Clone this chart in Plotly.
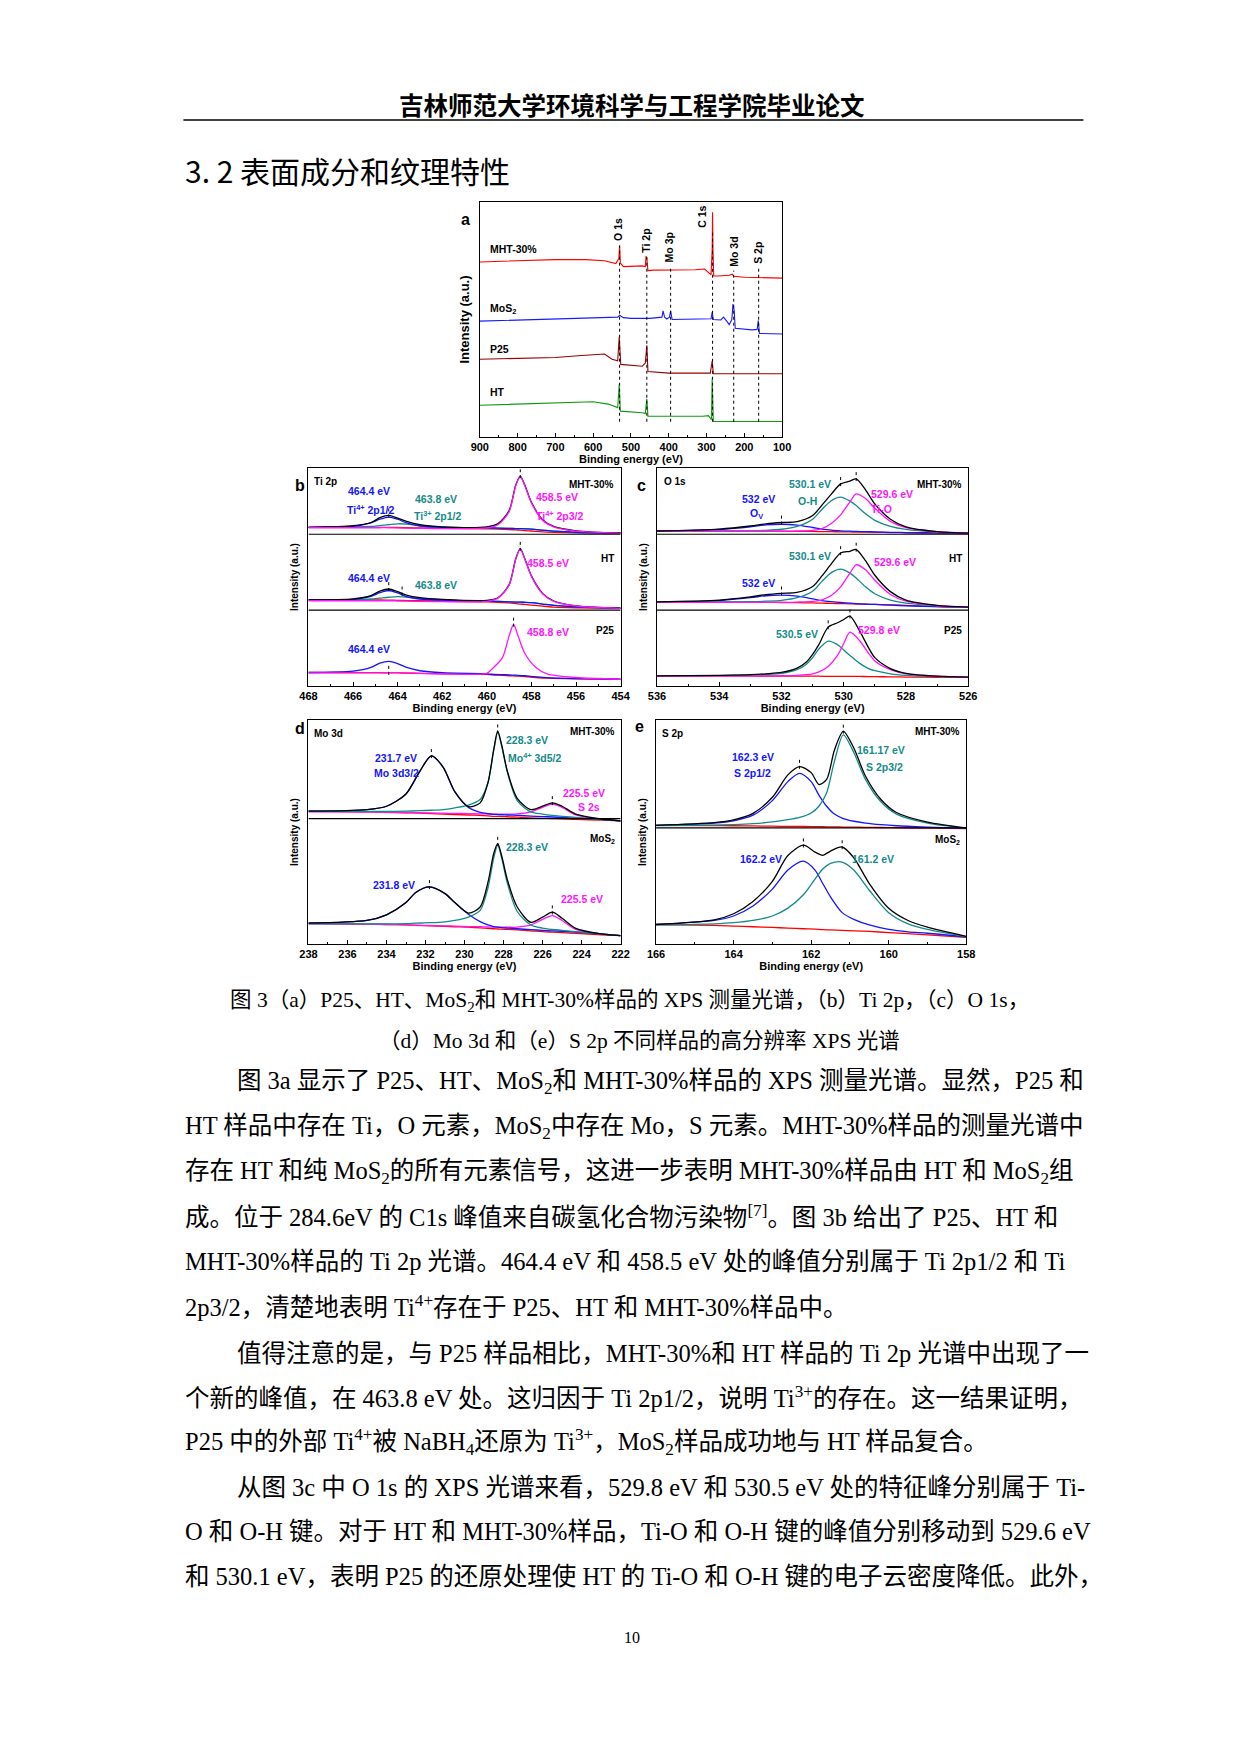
import numpy as np
import plotly.graph_objects as go

W, H = 1240, 1754
RED, BLUE, TEAL, MAG, BLK = "#ff0000", "#1414ff", "#138a8a", "#ff14ff", "#000000"

# ---------------- panel a: survey spectra ----------------
survey_mht_x = [900, 800, 700, 620, 570, 540, 532, 530, 528, 520, 470, 462, 460, 458, 455, 440, 400, 330, 305, 295, 288, 285, 284, 283, 281, 270, 240, 232, 228, 200, 160, 100]
survey_mht_y = [74.5, 75, 75.5, 75.5, 75, 73.8, 76, 81.6, 74, 72.5, 72.8, 72.5, 77, 76, 70.8, 71, 71, 71.2, 71.5, 70, 69, 80, 95.6, 80, 68.5, 68.5, 68.8, 69.3, 68.4, 68, 67.8, 67.6]
survey_mos2_x = [900, 700, 600, 535, 530, 520, 500, 450, 418, 415, 411, 405, 398, 395, 391, 300, 288, 285, 282, 262, 255, 245, 240, 233, 230, 227, 224, 180, 166, 163, 160, 100]
survey_mos2_y = [49.3, 50.3, 50.7, 51, 51.8, 50.8, 50.5, 50.5, 51, 53.7, 51, 50.2, 51, 53.7, 50, 50, 50.3, 53.2, 50, 49.8, 51, 49, 47.8, 50, 56.6, 54, 46.3, 45.6, 45.8, 49.6, 44.1, 43.8]
survey_p25_x = [900, 800, 700, 640, 570, 550, 535, 531, 529, 527, 470, 462, 458, 455, 400, 290, 285, 282, 100]
survey_p25_y = [33.1, 33.4, 33.8, 34.6, 35.3, 33.1, 32.4, 42.6, 36, 30.9, 30.1, 31.5, 39, 27.9, 27.2, 27.2, 32.4, 26.9, 26.9]
survey_ht_x = [900, 800, 700, 600, 560, 535, 531, 529, 528, 470, 462, 458, 455, 310, 295, 287, 285, 282, 100]
survey_ht_y = [13.5, 14, 14.7, 15, 14, 12.5, 22.4, 14, 11, 10.3, 10, 16.2, 8.8, 8.8, 9.1, 7.4, 25, 6.6, 6.6]
survey_names = ["MHT-30%", "MoS<sub>2</sub>", "P25", "HT"]
survey_label_y = [80, 54.4, 37.5, 19]
survey_lines = ["O 1s", "Ti 2p", "Mo 3p", "C 1s", "Mo 3d", "S 2p"]
survey_line_x = [530, 458, 395, 284, 228, 162]
survey_label_x = [534, 460, 399, 312, 226, 164]
survey_label_y0 = [82.4, 77.6, 73.5, 88.2, 71.8, 72.8]

# ---------------- panel b: Ti 2p ----------------
ti_x = [468, 466, 465.2, 464.8, 464.4, 464, 463.6, 463, 462, 460, 459.5, 459, 458.7, 458.5, 458.3, 458, 457.5, 457, 456, 454]
ti_mht_total = [2.8, 3.5, 5, 7.2, 8.3, 7, 5.5, 4, 3, 3, 4.5, 10.5, 22.3, 26.3, 22.3, 14.3, 6.3, 3.2, 1.2, 0.2]
ti_mht_blue = [2.8, 3.2, 4.8, 6.5, 7.5, 6.5, 4.8, 3.4, 2.8, 2.6, 2.4, 2.3, 2.2, 2.2, 2.1, 2, 1.5, 1, 0.5, 0.2]
ti_mht_teal = [2.8, 3, 3.2, 3.6, 4, 4.4, 4.3, 3.6, 2.9, 2.5, 2.4, 2.3, 2.2, 2.2, 2.1, 2, 1.5, 1, 0.5, 0.2]
ti_mht_mag = [2.6, 2.6, 2.6, 2.6, 2.6, 2.5, 2.4, 2.3, 2.2, 2.5, 4, 10, 22, 26, 22, 14, 6, 3, 1, 0.1]
ti_mht_red = [2.8, 2.8, 2.8, 2.8, 2.8, 2.7, 2.6, 2.5, 2.3, 2.1, 2, 1.8, 1.6, 1.5, 1.3, 1.1, 0.7, 0.5, 0.3, 0.1]
ti_ht_total = [4, 4.5, 6, 8, 9, 7.8, 6.2, 5, 4.2, 3.8, 5, 11, 23, 27.5, 23, 15, 7, 3.5, 1.3, 0.2]
ti_ht_blue = [4, 4.2, 5.6, 7.3, 8.3, 7.2, 5.5, 4.4, 3.9, 3.5, 3.3, 3.1, 3, 3, 2.9, 2.7, 2.1, 1.5, 0.8, 0.2]
ti_ht_teal = [4, 4.1, 4.4, 4.8, 5.2, 5.5, 5.3, 4.6, 3.9, 3.5, 3.3, 3.1, 3, 3, 2.9, 2.7, 2.1, 1.5, 0.8, 0.2]
ti_ht_mag = [3.6, 3.6, 3.6, 3.6, 3.6, 3.5, 3.4, 3.3, 3.2, 3.3, 4.8, 10.8, 22.8, 27.3, 22.8, 14.8, 6.8, 3.3, 1.2, 0.1]
ti_ht_red = [4, 4, 4, 4, 3.9, 3.8, 3.7, 3.6, 3.4, 3.1, 2.9, 2.6, 2.3, 2.1, 1.9, 1.6, 1.1, 0.7, 0.4, 0.1]
ti_p25_x = [468, 466, 465.2, 464.8, 464.4, 464, 463.6, 463, 462, 460, 459.8, 459.3, 459, 458.8, 458.6, 458.3, 457.8, 457.3, 456, 454]
ti_p25_blue = [3.2, 3.8, 5.5, 7.5, 8.3, 7.3, 5.5, 4, 3.1, 2.6, 2.4, 2.2, 2.1, 2, 1.9, 1.7, 1.2, 0.8, 0.4, 0.1]
ti_p25_mag = [3, 3, 3, 3, 3.1, 3.1, 3, 2.8, 2.6, 2.8, 4.5, 10, 20, 25.2, 20, 12, 5.5, 2.6, 0.9, 0.1]
ti_p25_red = [3.2, 3.2, 3.1, 3.1, 3, 3, 2.9, 2.8, 2.6, 2.3, 2.1, 1.9, 1.7, 1.6, 1.5, 1.3, 0.9, 0.6, 0.3, 0.1]

# ---------------- panel c: O 1s ----------------
o_x = [536, 534, 533, 532.5, 532, 531.5, 531, 530.7, 530.4, 530.1, 529.8, 529.6, 529.3, 529, 528.5, 528, 527, 526]
o_mht_total = [1.1, 2, 3.4, 4.4, 5, 5.4, 8.2, 13, 18, 22.7, 24, 25, 20, 13.5, 6.5, 3, 0.8, 0.1]
o_mht_teal = [1.1, 1.1, 1.2, 1.4, 1.9, 3.2, 6.5, 11, 15, 16.6, 14.8, 12.8, 9, 6, 3.2, 1.8, 0.6, 0.1]
o_mht_mag = [1, 1, 1, 1, 1, 1.1, 1.4, 2.2, 4.5, 8.5, 14.5, 18.1, 16, 11.5, 5.5, 2.6, 0.8, 0.1]
o_mht_blue = [1.1, 1.8, 3, 3.9, 4.2, 3.8, 2.7, 2, 1.5, 1.2, 1, 0.9, 0.8, 0.7, 0.5, 0.4, 0.2, 0]
o_mht_red = [1.1, 1, 1, 1, 1, 0.9, 0.9, 0.8, 0.8, 0.7, 0.7, 0.6, 0.6, 0.5, 0.4, 0.3, 0.1, 0]
o_ht_total = [2.6, 3.4, 4.9, 5.9, 6.5, 6.9, 9.6, 14.5, 20, 25, 25.8, 26.6, 21.5, 14.8, 7.3, 3.4, 1, 0.2]
o_ht_teal = [2.6, 2.6, 2.7, 2.9, 3.3, 4.5, 7.5, 12, 16, 17.6, 15.8, 13.5, 9.5, 6.3, 3.4, 2, 0.8, 0.2]
o_ht_mag = [2.4, 2.4, 2.4, 2.4, 2.4, 2.5, 2.8, 3.5, 5.5, 9.5, 15.8, 19.6, 17.3, 12.5, 6, 2.9, 0.9, 0.2]
o_ht_blue = [2.6, 3.2, 4.5, 5.4, 5.7, 5.2, 4, 3.2, 2.7, 2.3, 2, 1.8, 1.6, 1.4, 1.1, 0.8, 0.4, 0.1]
o_ht_red = [2.6, 2.5, 2.4, 2.4, 2.3, 2.2, 2.1, 2, 1.9, 1.8, 1.7, 1.6, 1.5, 1.4, 1.2, 1, 0.4, 0.1]
o_p25_x = [536, 534, 533, 532.5, 532, 531.5, 531.2, 531, 530.8, 530.5, 530.2, 530, 529.8, 529.5, 529.2, 529, 528.5, 528, 527, 526]
o_p25_total = [0.6, 0.9, 1.2, 1.6, 2.2, 4.2, 7, 10.5, 15, 23, 25, 26.5, 28, 21.5, 13.5, 9, 4, 1.8, 0.5, 0.1]
o_p25_teal = [0.6, 0.8, 1, 1.3, 1.8, 3.5, 6, 9, 13, 16.6, 15, 12.5, 10, 6.5, 4, 3, 1.6, 0.9, 0.3, 0.1]
o_p25_mag = [0.5, 0.5, 0.5, 0.6, 0.7, 0.9, 1.2, 1.6, 2.5, 5, 10, 15.5, 20.7, 17, 11, 7.5, 3.5, 1.6, 0.5, 0.1]
o_p25_red = [0.6, 0.6, 0.6, 0.5, 0.5, 0.5, 0.5, 0.5, 0.5, 0.4, 0.4, 0.4, 0.4, 0.4, 0.3, 0.3, 0.2, 0.1, 0, 0]

# ---------------- panel d: Mo 3d ----------------
mo_x = [238, 235, 234, 233, 232.3, 231.7, 231.1, 230.5, 229.8, 229.2, 228.8, 228.5, 228.3, 228.1, 227.8, 227.3, 226.6, 226, 225.5, 225, 224.3, 223, 222]
mo_mht_total = [4.3, 5, 6.5, 12, 22, 29, 24, 13, 6.3, 8, 17, 32, 40, 34, 22, 10, 5, 6.5, 8, 6.5, 3, 0.8, 0]
mo_mht_blue = [4.3, 5, 6.5, 12, 22, 29, 24, 13, 6, 3.8, 3.2, 2.9, 2.8, 2.7, 2.6, 2.4, 2.1, 1.9, 1.7, 1.5, 1.2, 0.6, 0]
mo_mht_teal = [4.2, 4.2, 4.2, 4.3, 4.5, 4.7, 5, 5.8, 7, 9.5, 17, 31.5, 39.5, 33.5, 21.5, 9, 4, 3, 2.4, 2, 1.5, 0.6, 0]
mo_mht_mag = [4, 3.9, 3.8, 3.7, 3.6, 3.5, 3.4, 3.3, 3.2, 3.1, 3, 3, 3, 3, 3, 3.1, 4, 6, 7.5, 6, 2.6, 0.6, 0]
mo_mht_red = [4.3, 4, 3.8, 3.6, 3.4, 3.2, 3, 2.8, 2.6, 2.4, 2.2, 2, 2, 1.9, 1.8, 1.6, 1.3, 1.1, 1, 0.9, 0.6, 0.3, 0]
mo_mos2_x = [238, 235, 234, 233, 232.5, 231.8, 231, 230.5, 229.8, 229.2, 228.8, 228.5, 228.3, 228.1, 227.8, 227.3, 226.6, 226, 225.5, 225, 224.3, 223, 222]
mo_mos2_total = [5.8, 7, 9.5, 15, 19.5, 22, 19, 15, 10.3, 13, 24, 37, 41.3, 36, 25, 13, 6.2, 8.5, 10.7, 8, 3.5, 1, 0.2]
mo_mos2_blue = [5.8, 7, 9.5, 15, 19.5, 22, 19, 15, 9.8, 6.5, 5, 4.3, 4, 3.8, 3.6, 3.3, 2.9, 2.6, 2.4, 2.2, 1.8, 1, 0.2]
mo_mos2_teal = [5.5, 5.5, 5.5, 5.6, 5.8, 6, 6.4, 7, 8.5, 11.5, 21.5, 35, 40.5, 35, 23.5, 11, 5, 3.6, 3, 2.6, 2, 1, 0.2]
mo_mos2_mag = [5.5, 5.3, 5.2, 5, 4.9, 4.8, 4.6, 4.5, 4.3, 4.2, 4.1, 4, 4, 4, 4, 4, 5, 7.5, 9.2, 7, 3, 1, 0.2]
mo_mos2_red = [5.8, 5.4, 5.2, 5, 4.8, 4.6, 4.4, 4.2, 4, 3.7, 3.5, 3.3, 3.2, 3.1, 3, 2.8, 2.4, 2, 1.8, 1.6, 1.2, 0.6, 0.2]

# ---------------- panel e: S 2p ----------------
s_x = [166, 164.5, 164, 163.5, 163, 162.6, 162.3, 162, 161.8, 161.6, 161.4, 161.17, 160.9, 160.6, 160.2, 159.8, 159, 158]
s_mht_total = [1.5, 2.7, 3.9, 6.8, 14, 24, 27.7, 25, 19.7, 22, 35, 43.4, 36, 23.5, 13, 7.2, 2.9, 0.3]
s_mht_blue = [1.5, 2.5, 3.5, 6, 12.5, 21, 24.7, 21, 15, 10, 6.5, 4.5, 3.3, 2.5, 1.8, 1.3, 0.7, 0.1]
s_mht_teal = [1.4, 1.6, 1.8, 2.2, 3, 4, 5, 7, 10, 16, 30, 41.9, 34, 22, 12, 6.5, 2.5, 0.3]
s_mht_red = [1.5, 1.4, 1.3, 1.2, 1.1, 1, 1, 0.9, 0.9, 0.8, 0.8, 0.7, 0.7, 0.6, 0.5, 0.4, 0.2, 0]
s_mos2_x = [166, 164.5, 164, 163.5, 163, 162.6, 162.2, 161.9, 161.7, 161.5, 161.2, 160.9, 160.5, 160, 159.5, 159, 158]
s_mos2_total = [5.7, 7.8, 10.5, 16, 25, 36.5, 41.1, 38, 36.6, 38.5, 40.3, 35.5, 24, 13, 7.5, 4.5, 0.4]
s_mos2_blue = [5.7, 7.5, 9.5, 14, 21.5, 30, 34, 30, 24, 18, 11, 8, 5.5, 3.5, 2.4, 1.8, 0.2]
s_mos2_teal = [5.5, 6, 6.5, 7.5, 9.5, 13, 19, 26, 30.5, 33, 33.6, 30, 21, 11, 6, 3.5, 0.3]
s_mos2_red = [5.7, 5.3, 5, 4.7, 4.4, 4.1, 3.8, 3.6, 3.4, 3.3, 3.1, 2.9, 2.6, 2.1, 1.6, 1.1, 0]

fig = go.Figure()

# the page is drawn 8px in from the window corner, so targets are shifted back by that much
PAD = 8


def px(x):
    return (x - PAD) / W


def py(y):
    return 1 - (y - PAD) / H


def axis_pair(n, xdom, ydom, xrange, dtick, minor):
    xa = dict(domain=[px(xdom[0]), px(xdom[1])], range=xrange, dtick=dtick, anchor="y%d" % n,
              showline=True, mirror=True, linecolor="black", linewidth=1.2, ticks="inside", ticklen=4,
              tickcolor="black", minor=dict(dtick=minor, ticks="inside", ticklen=2, tickcolor="black"),
              showgrid=False, zeroline=False, tickfont=dict(family="Liberation Sans", size=11, color="black", weight="bold"),
              title=dict(text="Binding energy (eV)", standoff=2,
                         font=dict(family="Liberation Sans", size=11, color="black", weight="bold")))
    ya = dict(domain=[py(ydom[1]), py(ydom[0])], range=[0, 100], anchor="x%d" % n, showline=True, mirror=True,
              linecolor="black", linewidth=1.2, showticklabels=False, ticks="", showgrid=False, zeroline=False,
              title=dict(text="Intensity (a.u.)", standoff=6,
                         font=dict(family="Liberation Sans", size=10, color="black", weight="bold")))
    return xa, ya


axes = {
    1: axis_pair(1, (478, 785), (202, 437), [900, 100], 100, 50),
    2: axis_pair(2, (304, 621), (468, 686), [468, 454], 2, 1),
    3: axis_pair(3, (658, 974), (468, 686), [536, 526], 2, 1),
    4: axis_pair(4, (304, 621), (720, 944), [238, 222], 2, 1),
    5: axis_pair(5, (657, 972), (720, 944), [166, 158], 2, 1),
}
axes[1][1]["title"]["font"]["size"] = 13


def ref(n):
    return ("x" if n == 1 else "x%d" % n), ("y" if n == 1 else "y%d" % n)


def line(n, x, y, color, off=0, width=1.3, shape="spline", dash="solid"):
    xr, yr = ref(n)
    fig.add_trace(go.Scatter(x=x, y=np.array(y) + off, mode="lines", xaxis=xr, yaxis=yr, showlegend=False,
                             line=dict(color=color, width=width, shape=shape, dash=dash, smoothing=0.8)))


annots = []


def text(n, x, y, s, color=BLK, anchor="center", size=10.5, angle=0, yanchor="middle"):
    xr, yr = ref(n)
    annots.append(dict(x=x, y=y, xref=xr, yref=yr, text=s, showarrow=False, xanchor=anchor, yanchor=yanchor,
                       textangle=angle, font=dict(family="Liberation Sans", size=size, color=color, weight="bold")))


def marks(n, energies, x, total, off):
    xs, ys = np.array(x)[::-1], np.array(total)[::-1]
    for e in energies:
        v = np.interp(e, xs, ys) + off
        line(n, [e, e], [v - 1, v + 4], BLK, width=1, shape="linear", dash="dot")


def sep(n, y):
    line(n, axes[n][0]["range"], [y, y], BLK, width=1.2, shape="linear")


# panel a
for sx, sy, c in [(survey_mht_x, survey_mht_y, RED), (survey_mos2_x, survey_mos2_y, "#1a1aff"),
                  (survey_p25_x, survey_p25_y, "#990000"), (survey_ht_x, survey_ht_y, "#119911")]:
    line(1, sx, sy, c, width=1.1, shape="linear")
for nm, ly in zip(survey_names, survey_label_y):
    text(1, 878, ly, nm, anchor="left", size=10.5)
for nm, lx, ly0, lx_line in zip(survey_lines, survey_label_x, survey_label_y0, survey_line_x):
    line(1, [lx_line, lx_line], [6.5, ly0 - 1], BLK, width=1, shape="linear", dash="dot")
    text(1, lx, ly0, nm, angle=-90, yanchor="bottom", size=10.5)

# panel b
for off, comps in [(70, [(ti_mht_red, RED), (ti_mht_teal, TEAL), (ti_mht_blue, BLUE), (ti_mht_total, BLK), (ti_mht_mag, MAG)]),
                   (35.5, [(ti_ht_red, RED), (ti_ht_teal, TEAL), (ti_ht_blue, BLUE), (ti_ht_total, BLK), (ti_ht_mag, MAG)])]:
    for yv, c in comps:
        line(2, ti_x, yv, c, off)
for yv, c in [(ti_p25_red, RED), (ti_p25_blue, BLUE), (ti_p25_mag, MAG)]:
    line(2, ti_p25_x, yv, c, 3)
marks(2, [464.4, 458.5], ti_x, ti_mht_total, 70)
marks(2, [464.4, 463.8, 458.5], ti_x, ti_ht_total, 35.5)
marks(2, [464.4, 458.8], ti_p25_x, ti_p25_mag, 3)
sep(2, 69.6)
sep(2, 34.8)
text(2, 467.85, 94, "Ti 2p", anchor="left", size=10)
for ly, nm in [(92.5, "MHT-30%"), (58.5, "HT"), (25.5, "P25")]:
    text(2, 454.2, ly, nm, anchor="right", size=10)
text(2, 465.3, 89.6, "464.4 eV", BLUE)
text(2, 465.2, 81.1, "Ti<sup>4+</sup> 2p1/2", BLUE)
text(2, 462.3, 85.8, "463.8 eV", TEAL)
text(2, 462.2, 78, "Ti<sup>3+</sup> 2p1/2", TEAL)
text(2, 457.9, 86.6, "458.5 eV", MAG, anchor="left")
text(2, 457.9, 78, "Ti<sup>4+</sup> 2p3/2", MAG, anchor="left")
text(2, 465.3, 49.5, "464.4 eV", BLUE)
text(2, 462.3, 46.4, "463.8 eV", TEAL)
text(2, 458.3, 56.4, "458.5 eV", MAG, anchor="left")
text(2, 465.3, 17, "464.4 eV", BLUE)
text(2, 458.3, 24.7, "458.8 eV", MAG, anchor="left")

# panel c
for off, comps in [(70, [(o_mht_red, RED), (o_mht_blue, BLUE), (o_mht_teal, TEAL), (o_mht_mag, MAG), (o_mht_total, BLK)]),
                   (36, [(o_ht_red, RED), (o_ht_blue, BLUE), (o_ht_teal, TEAL), (o_ht_mag, MAG), (o_ht_total, BLK)])]:
    for yv, c in comps:
        line(3, o_x, yv, c, off)
for yv, c in [(o_p25_red, RED), (o_p25_teal, TEAL), (o_p25_mag, MAG), (o_p25_total, BLK)]:
    line(3, o_p25_x, yv, c, 4)
marks(3, [532, 530.1, 529.6], o_x, o_mht_total, 70)
marks(3, [532, 530.1, 529.6], o_x, o_ht_total, 36)
marks(3, [530.5, 529.8], o_p25_x, o_p25_total, 4)
sep(3, 69.6)
sep(3, 34.8)
text(3, 535.85, 94, "O 1s", anchor="left", size=10)
for ly, nm in [(92.5, "MHT-30%"), (58.5, "HT"), (25.5, "P25")]:
    text(3, 526.15, ly, nm, anchor="right", size=10)
text(3, 531.1, 92.7, "530.1 eV", TEAL)
text(3, 531.15, 85, "O-H", TEAL)
text(3, 529.2, 88, "529.6 eV", MAG, anchor="left")
text(3, 529.2, 81, "Ti-O", MAG, anchor="left")
text(3, 532.75, 86, "532 eV", BLUE)
text(3, 532.8, 78.8, "O<sub>V</sub>", BLUE)
text(3, 531.1, 59.8, "530.1 eV", TEAL)
text(3, 529.1, 56.7, "529.6 eV", MAG, anchor="left")
text(3, 532.75, 47.4, "532 eV", BLUE)
text(3, 531.5, 24, "530.5 eV", TEAL)
text(3, 529.6, 25.5, "529.8 eV", MAG, anchor="left")

# panel d
for off, xg, comps in [(55, mo_x, [(mo_mht_red, RED), (mo_mht_mag, MAG), (mo_mht_blue, BLUE), (mo_mht_teal, TEAL), (mo_mht_total, BLK)]),
                       (3.5, mo_mos2_x, [(mo_mos2_red, RED), (mo_mos2_mag, MAG), (mo_mos2_blue, BLUE), (mo_mos2_teal, TEAL), (mo_mos2_total, BLK)])]:
    for yv, c in comps:
        line(4, xg, yv, c, off)
marks(4, [231.7, 228.3, 225.5], mo_x, mo_mht_total, 55)
marks(4, [231.8, 228.3, 225.5], mo_mos2_x, mo_mos2_total, 3.5)
sep(4, 56)
text(4, 237.8, 94, "Mo 3d", anchor="left", size=10)
text(4, 222.2, 95, "MHT-30%", anchor="right", size=10)
text(4, 222.2, 47, "MoS<sub>2</sub>", anchor="right", size=10)
text(4, 233.5, 83, "231.7 eV", BLUE)
text(4, 233.5, 76.2, "Mo 3d3/2", BLUE)
text(4, 228.0, 91, "228.3 eV", TEAL, anchor="left")
text(4, 227.9, 83.4, "Mo<sup>4+</sup> 3d5/2", TEAL, anchor="left")
text(4, 223.9, 67.3, "225.5 eV", MAG)
text(4, 223.6, 61.3, "S 2s", MAG)
text(4, 228.0, 43.3, "228.3 eV", TEAL, anchor="left")
text(4, 233.6, 26.2, "231.8 eV", BLUE)
text(4, 224.0, 20.2, "225.5 eV", MAG)

# panel e
for off, xg, comps in [(51.5, s_x, [(s_mht_red, RED), (s_mht_blue, BLUE), (s_mht_teal, TEAL), (s_mht_total, BLK)]),
                       (3, s_mos2_x, [(s_mos2_red, RED), (s_mos2_blue, BLUE), (s_mos2_teal, TEAL), (s_mos2_total, BLK)])]:
    for yv, c in comps:
        line(5, xg, yv, c, off)
marks(5, [162.3, 161.17], s_x, s_mht_total, 51.5)
marks(5, [162.2, 161.2], s_mos2_x, s_mos2_total, 3)
sep(5, 51.8)
text(5, 165.9, 94, "S 2p", anchor="left", size=10)
text(5, 158.1, 95, "MHT-30%", anchor="right", size=10)
text(5, 158.1, 46.5, "MoS<sub>2</sub>", anchor="right", size=10)
text(5, 163.5, 83.4, "162.3 eV", BLUE)
text(5, 163.5, 76.5, "S 2p1/2", BLUE)
text(5, 160.2, 86.7, "161.17 eV", TEAL)
text(5, 160.1, 79.2, "S 2p3/2", TEAL)
text(5, 163.3, 38.1, "162.2 eV", BLUE)
text(5, 161.0, 38.1, "161.2 eV", TEAL, anchor="left")

# panel letters
for lx, ly, s in [(463, 209, "a"), (288, 475, "b"), (642, 475, "c"), (288, 728, "d"), (640, 726, "e")]:
    annots.append(dict(x=px(lx), y=py(ly), xref="paper", yref="paper", text=s, showarrow=False,
                       font=dict(family="Liberation Sans", size=16, color="black", weight="bold")))

# page text
SERIF = "Liberation Serif, Noto Sans CJK SC"


def page_text(x, y, s, size=22, anchor="left", family=SERIF, weight="normal"):
    annots.append(dict(x=px(x), y=py(y), xref="paper", yref="paper", text=s, showarrow=False, xanchor=anchor,
                       yanchor="middle", font=dict(family=family, size=size, color="black", weight=weight)))


page_text(633, 104, "吉林师范大学环境科学与工程学院毕业论文", size=24.5, anchor="center",
          family="Noto Sans CJK SC", weight="bold")
page_text(177, 170, "3. 2 表面成分和纹理特性", size=30, family="Noto Sans CJK SC")
page_text(630, 1001, "图 3（a）P25、HT、MoS<sub>2</sub>和 MHT-30%样品的 XPS 测量光谱，（b）Ti 2p，（c）O 1s，",
          size=21.5, anchor="center")
page_text(640, 1041, "（d）Mo 3d 和（e）S 2p 不同样品的高分辨率 XPS 光谱", size=21.5, anchor="center")

body = [
    (229, 1082, "图 3a 显示了 P25、HT、MoS<sub>2</sub>和 MHT-30%样品的 XPS 测量光谱。显然，P25 和"),
    (177, 1127, "HT 样品中存在 Ti，O 元素，MoS<sub>2</sub>中存在 Mo，S 元素。MHT-30%样品的测量光谱中"),
    (177, 1172, "存在 HT 和纯 MoS<sub>2</sub>的所有元素信号，这进一步表明 MHT-30%样品由 HT 和 MoS<sub>2</sub>组"),
    (177, 1216, "成。位于 284.6eV 的 C1s 峰值来自碳氢化合物污染物<sup>[7]</sup>。图 3b 给出了 P25、HT 和"),
    (177, 1261, "MHT-30%样品的 Ti 2p 光谱。464.4 eV 和 458.5 eV 处的峰值分别属于 Ti 2p1/2 和 Ti"),
    (177, 1306, "2p3/2，清楚地表明 Ti<sup>4+</sup>存在于 P25、HT 和 MHT-30%样品中。"),
    (229, 1353, "值得注意的是，与 P25 样品相比，MHT-30%和 HT 样品的 Ti 2p 光谱中出现了一"),
    (177, 1397, "个新的峰值，在 463.8 eV 处。这归因于 Ti 2p1/2，说明 Ti<sup>3+</sup>的存在。这一结果证明，"),
    (177, 1442, "P25 中的外部 Ti<sup>4+</sup>被 NaBH<sub>4</sub>还原为 Ti<sup>3+</sup>，MoS<sub>2</sub>样品成功地与 HT 样品复合。"),
    (229, 1487, "从图 3c 中 O 1s 的 XPS 光谱来看，529.8 eV 和 530.5 eV 处的特征峰分别属于 Ti-"),
    (177, 1531, "O 和 O-H 键。对于 HT 和 MHT-30%样品，Ti-O 和 O-H 键的峰值分别移动到 529.6 eV"),
    (177, 1576, "和 530.1 eV，表明 P25 的还原处理使 HT 的 Ti-O 和 O-H 键的电子云密度降低。此外，"),
]
for bx, by, s in body:
    page_text(bx, by, s, size=24.5)
page_text(633, 1637, "10", size=16, anchor="center")

layout = dict(width=W, height=H, margin=dict(l=0, r=0, t=0, b=0), paper_bgcolor="white", plot_bgcolor="white",
              annotations=annots, showlegend=False,
              shapes=[dict(type="line", xref="paper", yref="paper", x0=px(177), x1=px(1091), y0=py(120), y1=py(120),
                           line=dict(color="black", width=1.5))])
for n, (xa, ya) in axes.items():
    layout["xaxis" if n == 1 else "xaxis%d" % n] = xa
    layout["yaxis" if n == 1 else "yaxis%d" % n] = ya
fig.update_layout(**layout)
fig.write_html("out.html")
